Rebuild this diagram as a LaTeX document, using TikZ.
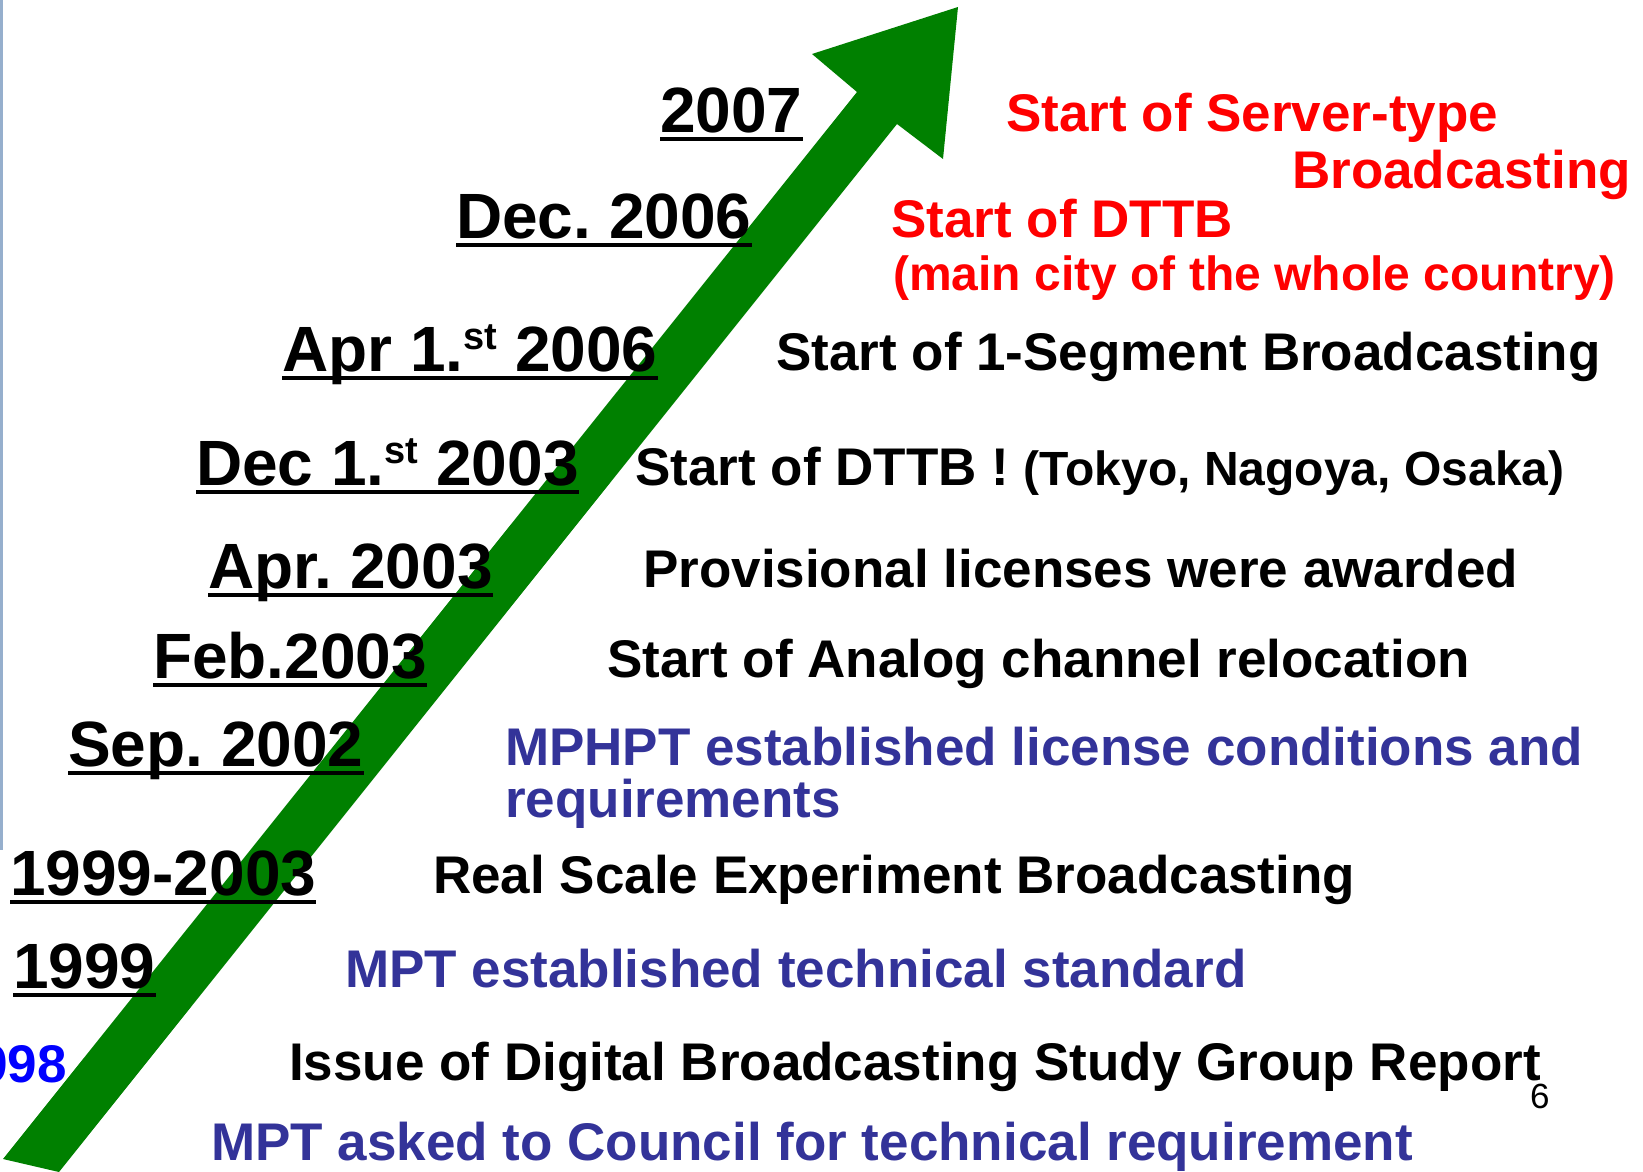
\documentclass[tikz,border=0pt]{standalone}
\usepackage{fontspec}
\setmainfont{Liberation Sans}
\definecolor{arrowgreen}{RGB}{0,128,0}
\definecolor{navy}{RGB}{51,51,153}
\definecolor{edgeblue}{RGB}{150,175,205}
\definecolor{pureblue}{RGB}{0,0,255}
\newcommand{\sst}{\raisebox{22pt}{\fontsize{38}{38}\selectfont st}}
\tikzset{
  date/.style={font=\frenchspacing\bfseries\fontsize{64}{64}\selectfont, anchor=base west, inner sep=0pt, text=black},
  desc/.style={font=\frenchspacing\bfseries\fontsize{53}{53}\selectfont, anchor=base west, inner sep=0pt, text=black},
  descsmall/.style={font=\frenchspacing\bfseries\fontsize{48}{48}\selectfont, anchor=base west, inner sep=0pt},
  redtext/.style={text=red},
  navytext/.style={text=navy},
  uline/.style={line width=4.5pt, black},
}
\begin{document}
\frenchspacing
\begin{tikzpicture}[x=1pt,y=-1pt]
\useasboundingbox (0,0) rectangle (1643,1172);
\fill[white] (0,0) rectangle (1643,1172);
% left edge line
\fill[edgeblue] (0,0) rectangle (3,850);
% green arrow
\fill[arrowgreen] (958,7) -- (943,159) -- (897,124) -- (59,1172) -- (3,1159) -- (857,92) -- (812,54) -- cycle;
% date labels
\node[date] (d2007) at (660,132) {2007};
\node[date] (dDec06) at (456,238) {Dec. 2006};
\node[date] (dApr06) at (282,371) {Apr 1.\sst{} 2006};
\node[date] (dDec03) at (196,485) {Dec 1.\sst{} 2003};
\node[date] (dApr03) at (208,588) {Apr. 2003};
\node[date] (dFeb03) at (153,678) {Feb.2003};
\node[date] (dSep02) at (68,766) {Sep. 2002};
\node[date] (d9903) at (10,895) {1999-2003};
\node[date] (d1999) at (13,988) {1999};
\node[desc, anchor=base east, text=pureblue] (d1998) at (67,1082) {1998};
\foreach \n in {d2007,dDec06,dApr06,dDec03,dApr03,dFeb03,dSep02,d9903,d1999}
  \draw[uline] ([yshift=-7pt]\n.base west) -- ([yshift=-7pt]\n.base east);
% descriptions
\node[desc, redtext] (tServer) at (1006,131) {Start of Server-type};
\node[desc, redtext] (tBroad) at (1292,188) {Broadcasting};
\node[desc, redtext] (tDTTB) at (891,237) {Start of DTTB};
\node[descsmall, redtext] (tMain) at (893,290) {(main city of the whole country)};
\node[desc] (tSeg) at (776,370) {Start of 1-Segment Broadcasting};
\node[desc] (tDTTB03) at (635,485) {Start of DTTB ! {\fontsize{48}{48}\selectfont(Tokyo, Nagoya, Osaka)}};
\node[desc] (tProv) at (643,587) {Provisional licenses were awarded};
\node[desc] (tAnalog) at (607,677) {Start of Analog channel relocation};
\node[desc, navytext] (tMPHPT) at (505,765) {MPHPT established license conditions and};
\node[desc, navytext] (tReq) at (505,817) {requirements};
\node[desc] (tReal) at (433,893) {Real Scale Experiment Broadcasting};
\node[desc, navytext] (tMPT) at (345,987) {MPT established technical standard};
\node[desc] (tIssue) at (289,1080) {Issue of Digital Broadcasting Study Group Report};
\node[desc, navytext] (tAsked) at (211,1160) {MPT asked to Council for technical requirement};
\node[font=\fontsize{35}{35}\selectfont, anchor=base west, inner sep=0pt] (pnum) at (1530,1108) {6};
\end{tikzpicture}
\end{document}
